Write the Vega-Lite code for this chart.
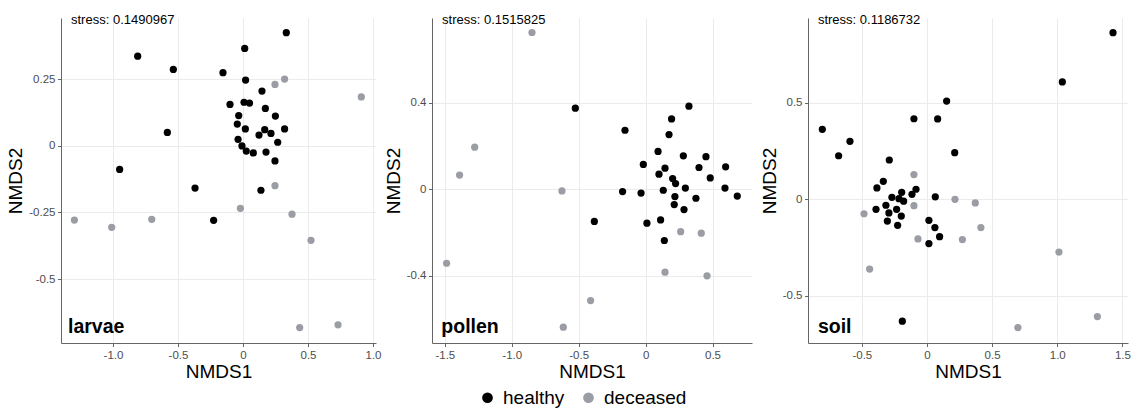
{
  "$schema": "https://vega.github.io/schema/vega-lite/v6.json",
  "padding": {"left": 6, "top": 13, "right": 5, "bottom": 5},
  "bounds": "flush",
  "spacing": 56,
  "config": {
    "view": {"stroke": null},
    "font": "Liberation Sans",
    "axis": {
      "grid": true,
      "gridColor": "#ebebeb",
      "gridWidth": 1,
      "domainColor": "#666666",
      "tickColor": "#666666",
      "tickSize": 3.5,
      "labelPadding": 2.5,
      "labelFontSize": 11.5,
      "labelColor": "#4d4d4d",
      "labelFont": "Liberation Sans",
      "titleFont": "Liberation Sans",
      "titleFontSize": 19,
      "titleFontWeight": "normal",
      "titleColor": "#000000"
    },
    "axisX": {"titlePadding": 2},
    "axisY": {"titlePadding": 3},
    "text": {"font": "Liberation Sans"}
  },
  "datasets": {
    "pts": [
      {"panel": "larvae", "status": "healthy", "x": 0.333, "y": 0.424},
      {"panel": "larvae", "status": "healthy", "x": 0.013, "y": 0.365},
      {"panel": "larvae", "status": "healthy", "x": -0.81, "y": 0.336},
      {"panel": "larvae", "status": "healthy", "x": -0.536, "y": 0.286},
      {"panel": "larvae", "status": "healthy", "x": -0.154, "y": 0.274},
      {"panel": "larvae", "status": "healthy", "x": 0.02, "y": 0.246},
      {"panel": "larvae", "status": "healthy", "x": 0.146, "y": 0.205},
      {"panel": "larvae", "status": "healthy", "x": -0.1, "y": 0.155},
      {"panel": "larvae", "status": "healthy", "x": 0.008, "y": 0.163},
      {"panel": "larvae", "status": "healthy", "x": 0.05, "y": 0.16},
      {"panel": "larvae", "status": "healthy", "x": 0.172, "y": 0.14},
      {"panel": "larvae", "status": "healthy", "x": -0.033, "y": 0.113},
      {"panel": "larvae", "status": "healthy", "x": 0.249, "y": 0.111},
      {"panel": "larvae", "status": "healthy", "x": -0.044, "y": 0.081},
      {"panel": "larvae", "status": "healthy", "x": 0.018, "y": 0.063},
      {"panel": "larvae", "status": "healthy", "x": 0.167, "y": 0.06},
      {"panel": "larvae", "status": "healthy", "x": 0.32, "y": 0.063},
      {"panel": "larvae", "status": "healthy", "x": -0.582, "y": 0.05},
      {"panel": "larvae", "status": "healthy", "x": 0.123, "y": 0.04},
      {"panel": "larvae", "status": "healthy", "x": 0.215, "y": 0.046},
      {"panel": "larvae", "status": "healthy", "x": -0.038, "y": 0.024},
      {"panel": "larvae", "status": "healthy", "x": 0.267, "y": 0.013},
      {"panel": "larvae", "status": "healthy", "x": -0.008, "y": -0.001},
      {"panel": "larvae", "status": "healthy", "x": 0.025, "y": -0.02},
      {"panel": "larvae", "status": "healthy", "x": 0.079, "y": -0.027},
      {"panel": "larvae", "status": "healthy", "x": 0.177, "y": -0.024},
      {"panel": "larvae", "status": "healthy", "x": 0.246, "y": -0.057},
      {"panel": "larvae", "status": "healthy", "x": -0.949, "y": -0.089},
      {"panel": "larvae", "status": "healthy", "x": -0.369, "y": -0.159},
      {"panel": "larvae", "status": "healthy", "x": 0.138, "y": -0.167},
      {"panel": "larvae", "status": "healthy", "x": -0.226, "y": -0.28},
      {"panel": "larvae", "status": "deceased", "x": 0.246, "y": 0.23},
      {"panel": "larvae", "status": "deceased", "x": 0.32, "y": 0.25},
      {"panel": "larvae", "status": "deceased", "x": 0.91, "y": 0.183},
      {"panel": "larvae", "status": "deceased", "x": 0.246, "y": -0.15},
      {"panel": "larvae", "status": "deceased", "x": -1.297, "y": -0.279},
      {"panel": "larvae", "status": "deceased", "x": -1.01, "y": -0.306},
      {"panel": "larvae", "status": "deceased", "x": -0.702, "y": -0.276},
      {"panel": "larvae", "status": "deceased", "x": -0.02, "y": -0.235},
      {"panel": "larvae", "status": "deceased", "x": 0.377, "y": -0.257},
      {"panel": "larvae", "status": "deceased", "x": 0.523, "y": -0.355},
      {"panel": "larvae", "status": "deceased", "x": 0.436, "y": -0.682},
      {"panel": "larvae", "status": "deceased", "x": 0.731, "y": -0.672},
      {"panel": "pollen", "status": "healthy", "x": -0.525, "y": 0.374},
      {"panel": "pollen", "status": "healthy", "x": 0.324, "y": 0.383},
      {"panel": "pollen", "status": "healthy", "x": 0.194, "y": 0.324},
      {"panel": "pollen", "status": "healthy", "x": -0.154, "y": 0.272},
      {"panel": "pollen", "status": "healthy", "x": 0.175, "y": 0.252},
      {"panel": "pollen", "status": "healthy", "x": 0.093, "y": 0.174},
      {"panel": "pollen", "status": "healthy", "x": 0.282, "y": 0.154},
      {"panel": "pollen", "status": "healthy", "x": 0.451, "y": 0.15},
      {"panel": "pollen", "status": "healthy", "x": -0.017, "y": 0.114},
      {"panel": "pollen", "status": "healthy", "x": 0.145, "y": 0.097},
      {"panel": "pollen", "status": "healthy", "x": 0.399, "y": 0.1},
      {"panel": "pollen", "status": "healthy", "x": 0.598, "y": 0.103},
      {"panel": "pollen", "status": "healthy", "x": 0.1, "y": 0.069},
      {"panel": "pollen", "status": "healthy", "x": 0.483, "y": 0.052},
      {"panel": "pollen", "status": "healthy", "x": 0.202, "y": 0.049},
      {"panel": "pollen", "status": "healthy", "x": 0.224, "y": 0.026},
      {"panel": "pollen", "status": "healthy", "x": 0.297, "y": 0.005},
      {"panel": "pollen", "status": "healthy", "x": 0.593, "y": 0.005},
      {"panel": "pollen", "status": "healthy", "x": -0.172, "y": -0.011},
      {"panel": "pollen", "status": "healthy", "x": -0.034, "y": -0.018},
      {"panel": "pollen", "status": "healthy", "x": 0.132, "y": -0.005},
      {"panel": "pollen", "status": "healthy", "x": 0.219, "y": -0.034},
      {"panel": "pollen", "status": "healthy", "x": 0.376, "y": -0.042},
      {"panel": "pollen", "status": "healthy", "x": 0.685, "y": -0.032},
      {"panel": "pollen", "status": "healthy", "x": 0.214, "y": -0.071},
      {"panel": "pollen", "status": "healthy", "x": 0.287, "y": -0.094},
      {"panel": "pollen", "status": "healthy", "x": -0.383, "y": -0.149},
      {"panel": "pollen", "status": "healthy", "x": 0.01, "y": -0.157},
      {"panel": "pollen", "status": "healthy", "x": 0.112, "y": -0.142},
      {"panel": "pollen", "status": "healthy", "x": 0.14, "y": -0.237},
      {"panel": "pollen", "status": "deceased", "x": -0.849, "y": 0.723},
      {"panel": "pollen", "status": "deceased", "x": -1.277, "y": 0.194},
      {"panel": "pollen", "status": "deceased", "x": -1.39, "y": 0.065},
      {"panel": "pollen", "status": "deceased", "x": -0.625, "y": -0.008},
      {"panel": "pollen", "status": "deceased", "x": 0.262, "y": -0.196},
      {"panel": "pollen", "status": "deceased", "x": 0.416, "y": -0.203},
      {"panel": "pollen", "status": "deceased", "x": -1.487, "y": -0.342},
      {"panel": "pollen", "status": "deceased", "x": 0.145, "y": -0.383},
      {"panel": "pollen", "status": "deceased", "x": 0.459, "y": -0.4},
      {"panel": "pollen", "status": "deceased", "x": -0.411, "y": -0.514},
      {"panel": "pollen", "status": "deceased", "x": -0.615, "y": -0.637},
      {"panel": "soil", "status": "healthy", "x": 1.428, "y": 0.865},
      {"panel": "soil", "status": "healthy", "x": 1.039, "y": 0.609},
      {"panel": "soil", "status": "healthy", "x": 0.151, "y": 0.51},
      {"panel": "soil", "status": "healthy", "x": -0.1, "y": 0.418},
      {"panel": "soil", "status": "healthy", "x": 0.082, "y": 0.417},
      {"panel": "soil", "status": "healthy", "x": -0.803, "y": 0.363},
      {"panel": "soil", "status": "healthy", "x": -0.591, "y": 0.301},
      {"panel": "soil", "status": "healthy", "x": -0.678, "y": 0.226},
      {"panel": "soil", "status": "healthy", "x": 0.213, "y": 0.242},
      {"panel": "soil", "status": "healthy", "x": -0.289, "y": 0.204},
      {"panel": "soil", "status": "healthy", "x": -0.335, "y": 0.093},
      {"panel": "soil", "status": "healthy", "x": -0.384, "y": 0.059},
      {"panel": "soil", "status": "healthy", "x": -0.084, "y": 0.052},
      {"panel": "soil", "status": "healthy", "x": -0.115, "y": 0.026},
      {"panel": "soil", "status": "healthy", "x": -0.194, "y": 0.036},
      {"panel": "soil", "status": "healthy", "x": 0.064, "y": 0.013},
      {"panel": "soil", "status": "healthy", "x": -0.269, "y": 0.01},
      {"panel": "soil", "status": "healthy", "x": -0.215, "y": 0.003},
      {"panel": "soil", "status": "healthy", "x": -0.179, "y": -0.01},
      {"panel": "soil", "status": "healthy", "x": -0.315, "y": -0.031},
      {"panel": "soil", "status": "healthy", "x": -0.391, "y": -0.052},
      {"panel": "soil", "status": "healthy", "x": -0.233, "y": -0.052},
      {"panel": "soil", "status": "healthy", "x": -0.292, "y": -0.071},
      {"panel": "soil", "status": "healthy", "x": -0.197, "y": -0.087},
      {"panel": "soil", "status": "healthy", "x": -0.304, "y": -0.113},
      {"panel": "soil", "status": "healthy", "x": -0.225, "y": -0.135},
      {"panel": "soil", "status": "healthy", "x": 0.015, "y": -0.109},
      {"panel": "soil", "status": "healthy", "x": 0.061, "y": -0.147},
      {"panel": "soil", "status": "healthy", "x": 0.097, "y": -0.194},
      {"panel": "soil", "status": "healthy", "x": 0.015, "y": -0.23},
      {"panel": "soil", "status": "healthy", "x": -0.189, "y": -0.633},
      {"panel": "soil", "status": "deceased", "x": -0.1, "y": 0.128},
      {"panel": "soil", "status": "deceased", "x": 0.215, "y": 0.0},
      {"panel": "soil", "status": "deceased", "x": -0.483, "y": -0.075},
      {"panel": "soil", "status": "deceased", "x": -0.1, "y": -0.033},
      {"panel": "soil", "status": "deceased", "x": 0.371, "y": -0.019},
      {"panel": "soil", "status": "deceased", "x": 0.414, "y": -0.147},
      {"panel": "soil", "status": "deceased", "x": -0.069, "y": -0.206},
      {"panel": "soil", "status": "deceased", "x": 0.272, "y": -0.209},
      {"panel": "soil", "status": "deceased", "x": -0.44, "y": -0.362},
      {"panel": "soil", "status": "deceased", "x": 1.013, "y": -0.274},
      {"panel": "soil", "status": "deceased", "x": 1.308, "y": -0.609},
      {"panel": "soil", "status": "deceased", "x": 0.698, "y": -0.666}
    ]
  },
  "hconcat": [
    {
      "width": 315,
      "height": 325,
      "layer": [
        {
          "data": {"name": "pts"},
          "transform": [{"filter": "datum.panel == 'larvae'"}],
          "mark": {"type": "point", "filled": true, "size": 52, "opacity": 1},
          "encoding": {
            "x": {"field": "x", "type": "quantitative", "scale": {"domain": [-1.4, 1.023], "nice": false, "zero": false},
                  "axis": {"title": "NMDS1", "values": [-1, -0.5, 0, 0.5, 1], "labelExpr": "datum.value == 0 ? '0' : (datum.value % 1 == 0 ? datum.value + '.0' : '' + datum.value)"}},
            "y": {"field": "y", "type": "quantitative", "scale": {"domain": [-0.74, 0.479], "nice": false, "zero": false},
                  "axis": {"title": "NMDS2", "values": [-0.5, -0.25, 0, 0.25], "labelExpr": "'' + datum.value"}},
            "color": {"field": "status", "type": "nominal", "scale": {"domain": ["healthy", "deceased"], "range": ["#000000", "#9a9da3"]},
                      "legend": {"orient": "none", "legendX": 417, "legendY": 370, "direction": "horizontal", "title": null, "labelFontSize": 19, "symbolSize": 115, "symbolType": "circle", "columnPadding": 14, "labelOffset": 6, "labelColor": "#000000"}}
          }
        },
        {
          "data": {"values": [{"t": "stress: 0.1490967"}]},
          "mark": {"type": "text", "align": "left", "baseline": "alphabetic", "fontSize": 13, "color": "#000000"},
          "encoding": {"x": {"datum": -1.323}, "y": {"datum": 0.456}, "text": {"field": "t"}}
        },
        {
          "data": {"values": [{"t": "larvae"}]},
          "mark": {"type": "text", "align": "left", "baseline": "alphabetic", "fontSize": 19.5, "fontWeight": "bold", "color": "#000000"},
          "encoding": {"x": {"datum": -1.346}, "y": {"datum": -0.703}, "text": {"field": "t"}}
        }
      ]
    },
    {
      "width": 320,
      "height": 325,
      "layer": [
        {
          "data": {"name": "pts"},
          "transform": [{"filter": "datum.panel == 'pollen'"}],
          "mark": {"type": "point", "filled": true, "size": 52, "opacity": 1},
          "encoding": {
            "x": {"field": "x", "type": "quantitative", "scale": {"domain": [-1.596, 0.795], "nice": false, "zero": false},
                  "axis": {"title": "NMDS1", "values": [-1.5, -1, -0.5, 0, 0.5], "labelExpr": "datum.value == 0 ? '0' : (datum.value % 1 == 0 ? datum.value + '.0' : '' + datum.value)"}},
            "y": {"field": "y", "type": "quantitative", "scale": {"domain": [-0.71, 0.79], "nice": false, "zero": false},
                  "axis": {"title": "NMDS2", "values": [-0.4, 0, 0.4], "labelExpr": "'' + datum.value"}},
            "color": {"field": "status", "type": "nominal", "scale": {"domain": ["healthy", "deceased"], "range": ["#000000", "#9a9da3"]}}
          }
        },
        {
          "data": {"values": [{"t": "stress: 0.1515825"}]},
          "mark": {"type": "text", "align": "left", "baseline": "alphabetic", "fontSize": 13, "color": "#000000"},
          "encoding": {"x": {"datum": -1.521}, "y": {"datum": 0.763}, "text": {"field": "t"}}
        },
        {
          "data": {"values": [{"t": "pollen"}]},
          "mark": {"type": "text", "align": "left", "baseline": "alphabetic", "fontSize": 19.5, "fontWeight": "bold", "color": "#000000"},
          "encoding": {"x": {"datum": -1.526}, "y": {"datum": -0.665}, "text": {"field": "t"}}
        }
      ]
    },
    {
      "width": 320,
      "height": 325,
      "layer": [
        {
          "data": {"name": "pts"},
          "transform": [{"filter": "datum.panel == 'soil'"}],
          "mark": {"type": "point", "filled": true, "size": 52, "opacity": 1},
          "encoding": {
            "x": {"field": "x", "type": "quantitative", "scale": {"domain": [-0.913, 1.543], "nice": false, "zero": false},
                  "axis": {"title": "NMDS1", "values": [-0.5, 0, 0.5, 1, 1.5], "labelExpr": "datum.value == 0 ? '0' : (datum.value % 1 == 0 ? datum.value + '.0' : '' + datum.value)"}},
            "y": {"field": "y", "type": "quantitative", "scale": {"domain": [-0.746, 0.941], "nice": false, "zero": false},
                  "axis": {"title": "NMDS2", "values": [-0.5, 0, 0.5], "labelExpr": "'' + datum.value"}},
            "color": {"field": "status", "type": "nominal", "scale": {"domain": ["healthy", "deceased"], "range": ["#000000", "#9a9da3"]}}
          }
        },
        {
          "data": {"values": [{"t": "stress: 0.1186732"}]},
          "mark": {"type": "text", "align": "left", "baseline": "alphabetic", "fontSize": 13, "color": "#000000"},
          "encoding": {"x": {"datum": -0.837}, "y": {"datum": 0.91}, "text": {"field": "t"}}
        },
        {
          "data": {"values": [{"t": "soil"}]},
          "mark": {"type": "text", "align": "left", "baseline": "alphabetic", "fontSize": 19.5, "fontWeight": "bold", "color": "#000000"},
          "encoding": {"x": {"datum": -0.837}, "y": {"datum": -0.695}, "text": {"field": "t"}}
        }
      ]
    }
  ]
}
